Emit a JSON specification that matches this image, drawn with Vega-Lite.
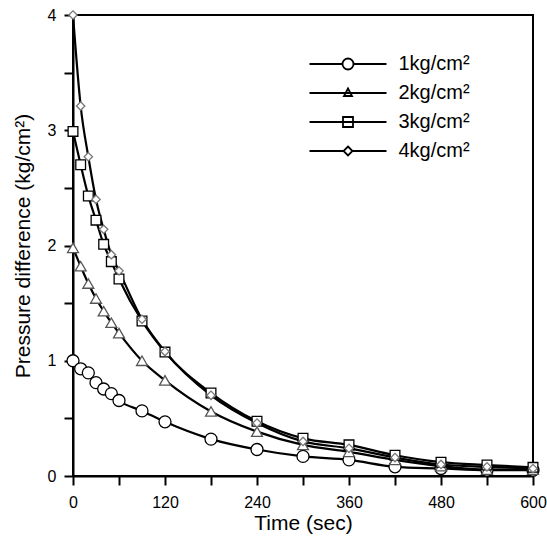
{
  "$schema": "https://vega.github.io/schema/vega-lite/v6.json",
  "width": 460,
  "height": 461,
  "autosize": "none",
  "padding": {"left": 73, "top": 15, "right": 14, "bottom": 62},
  "config": {
    "font": "Liberation Sans",
    "view": {"stroke": "black", "strokeWidth": 2},
    "axis": {
      "grid": false,
      "labelColor": "black",
      "labelFontSize": 16,
      "titleColor": "black",
      "titleFontSize": 21,
      "titleFontWeight": "normal"
    }
  },
  "data": {
    "values": [
      {"t": 0, "p": 1.0, "s": "1kg/cm²"},
      {"t": 10, "p": 0.93, "s": "1kg/cm²"},
      {"t": 20, "p": 0.895, "s": "1kg/cm²"},
      {"t": 30, "p": 0.81, "s": "1kg/cm²"},
      {"t": 40, "p": 0.755, "s": "1kg/cm²"},
      {"t": 50, "p": 0.715, "s": "1kg/cm²"},
      {"t": 60, "p": 0.655, "s": "1kg/cm²"},
      {"t": 90, "p": 0.565, "s": "1kg/cm²"},
      {"t": 120, "p": 0.47, "s": "1kg/cm²"},
      {"t": 180, "p": 0.32, "s": "1kg/cm²"},
      {"t": 240, "p": 0.23, "s": "1kg/cm²"},
      {"t": 300, "p": 0.17, "s": "1kg/cm²"},
      {"t": 360, "p": 0.14, "s": "1kg/cm²"},
      {"t": 420, "p": 0.08, "s": "1kg/cm²"},
      {"t": 480, "p": 0.065, "s": "1kg/cm²"},
      {"t": 540, "p": 0.05, "s": "1kg/cm²"},
      {"t": 600, "p": 0.05, "s": "1kg/cm²"},
      {"t": 0, "p": 1.98, "s": "2kg/cm²"},
      {"t": 10, "p": 1.82, "s": "2kg/cm²"},
      {"t": 20, "p": 1.67, "s": "2kg/cm²"},
      {"t": 30, "p": 1.54, "s": "2kg/cm²"},
      {"t": 40, "p": 1.43, "s": "2kg/cm²"},
      {"t": 50, "p": 1.33, "s": "2kg/cm²"},
      {"t": 60, "p": 1.24, "s": "2kg/cm²"},
      {"t": 90, "p": 1.0, "s": "2kg/cm²"},
      {"t": 120, "p": 0.83, "s": "2kg/cm²"},
      {"t": 180, "p": 0.56, "s": "2kg/cm²"},
      {"t": 240, "p": 0.385, "s": "2kg/cm²"},
      {"t": 300, "p": 0.27, "s": "2kg/cm²"},
      {"t": 360, "p": 0.21, "s": "2kg/cm²"},
      {"t": 420, "p": 0.14, "s": "2kg/cm²"},
      {"t": 480, "p": 0.085, "s": "2kg/cm²"},
      {"t": 540, "p": 0.055, "s": "2kg/cm²"},
      {"t": 600, "p": 0.055, "s": "2kg/cm²"},
      {"t": 0, "p": 2.99, "s": "3kg/cm²"},
      {"t": 10, "p": 2.7, "s": "3kg/cm²"},
      {"t": 20, "p": 2.43, "s": "3kg/cm²"},
      {"t": 30, "p": 2.22, "s": "3kg/cm²"},
      {"t": 40, "p": 2.01, "s": "3kg/cm²"},
      {"t": 50, "p": 1.86, "s": "3kg/cm²"},
      {"t": 60, "p": 1.71, "s": "3kg/cm²"},
      {"t": 90, "p": 1.345, "s": "3kg/cm²"},
      {"t": 120, "p": 1.075, "s": "3kg/cm²"},
      {"t": 180, "p": 0.72, "s": "3kg/cm²"},
      {"t": 240, "p": 0.475, "s": "3kg/cm²"},
      {"t": 300, "p": 0.327, "s": "3kg/cm²"},
      {"t": 360, "p": 0.27, "s": "3kg/cm²"},
      {"t": 420, "p": 0.18, "s": "3kg/cm²"},
      {"t": 480, "p": 0.12, "s": "3kg/cm²"},
      {"t": 540, "p": 0.095, "s": "3kg/cm²"},
      {"t": 600, "p": 0.075, "s": "3kg/cm²"},
      {"t": 0, "p": 4.0, "s": "4kg/cm²"},
      {"t": 10, "p": 3.21, "s": "4kg/cm²"},
      {"t": 20, "p": 2.77, "s": "4kg/cm²"},
      {"t": 30, "p": 2.4, "s": "4kg/cm²"},
      {"t": 40, "p": 2.14, "s": "4kg/cm²"},
      {"t": 50, "p": 1.92, "s": "4kg/cm²"},
      {"t": 60, "p": 1.78, "s": "4kg/cm²"},
      {"t": 90, "p": 1.36, "s": "4kg/cm²"},
      {"t": 120, "p": 1.08, "s": "4kg/cm²"},
      {"t": 180, "p": 0.7, "s": "4kg/cm²"},
      {"t": 240, "p": 0.46, "s": "4kg/cm²"},
      {"t": 300, "p": 0.3, "s": "4kg/cm²"},
      {"t": 360, "p": 0.24, "s": "4kg/cm²"},
      {"t": 420, "p": 0.16, "s": "4kg/cm²"},
      {"t": 480, "p": 0.1, "s": "4kg/cm²"},
      {"t": 540, "p": 0.08, "s": "4kg/cm²"},
      {"t": 600, "p": 0.065, "s": "4kg/cm²"}
    ]
  },
  "encoding": {
    "x": {
      "field": "t",
      "type": "quantitative",
      "scale": {"domain": [0, 600], "nice": false},
      "axis": {
        "title": "Time (sec)",
        "values": [0, 60, 120, 180, 240, 300, 360, 420, 480, 540, 600],
        "format": "d",
        "labelOpacity": {"condition": {"test": "datum.value % 120 != 0", "value": 0}, "value": 1},
        "ticks": true,
        "tickColor": "black",
        "tickOpacity": 1,
        "tickSize": 9,
        "tickWidth": 2,
        "domainColor": "black",
        "domainWidth": 2,
        "labelPadding": 9,
        "titlePadding": 2,
        "labelFlush": false,
        "labelOverlap": false
      }
    },
    "y": {
      "field": "p",
      "type": "quantitative",
      "scale": {"domain": [0, 4], "nice": false},
      "axis": {
        "title": "Pressure difference (kg/cm²)",
        "values": [0, 0.5, 1, 1.5, 2, 2.5, 3, 3.5, 4],
        "format": ".0f",
        "labelOpacity": {"condition": {"test": "datum.value % 1 != 0", "value": 0}, "value": 1},
        "ticks": true,
        "tickColor": "black",
        "tickOpacity": 1,
        "tickSize": 9,
        "tickWidth": 2,
        "domainColor": "black",
        "domainWidth": 2,
        "labelPadding": 8,
        "titlePadding": 14,
        "labelFlush": false,
        "labelOverlap": false
      }
    }
  },
  "layer": [
    {
      "mark": {"type": "line", "color": "black", "strokeWidth": 2.2, "interpolate": "monotone"},
      "encoding": {"detail": {"field": "s"}}
    },
    {
      "mark": {"type": "point", "filled": false, "fill": "white", "fillOpacity": 1, "strokeWidth": 1.3},
      "encoding": {
        "shape": {
          "field": "s",
          "scale": {"domain": ["1kg/cm²", "2kg/cm²", "3kg/cm²", "4kg/cm²"], "range": ["circle", "triangle-up", "square", "diamond"]},
          "legend": null
        },
        "stroke": {
          "field": "s",
          "scale": {"domain": ["1kg/cm²", "2kg/cm²", "3kg/cm²", "4kg/cm²"], "range": ["#000000", "#555555", "#000000", "#777777"]},
          "legend": null
        },
        "size": {
          "field": "s",
          "type": "nominal",
          "scale": {"domain": ["1kg/cm²", "2kg/cm²", "3kg/cm²", "4kg/cm²"], "range": [144, 70, 121, 90]},
          "legend": null
        }
      }
    },
    {
      "mark": {"type": "point", "filled": false, "stroke": "black", "strokeOpacity": 0, "fillOpacity": 0},
      "encoding": {
        "shape": {
          "field": "s",
          "scale": {
            "domain": ["1kg/cm²", "2kg/cm²", "3kg/cm²", "4kg/cm²"],
            "range": [
              "M-3.85,0H-0.55M0.55,0H3.85M0.55,0A0.55,0.55 0 1,0 -0.55,0A0.55,0.55 0 1,0 0.55,0Z",
              "M-3.85,0H3.85M0,-0.45L0.4,0.3L-0.4,0.3Z",
              "M-3.85,0H3.85M-0.5,-0.5H0.5V0.5H-0.5Z",
              "M-3.85,0H-0.45M0.45,0H3.85M0,-0.45L0.45,0L0,0.45L-0.45,0Z"
            ]
          },
          "legend": {
            "title": null,
            "orient": "none",
            "legendX": 264,
            "legendY": 38,
            "padding": 0,
            "symbolSize": 400,
            "symbolOpacity": 1,
            "symbolStrokeColor": "black",
            "symbolFillColor": "transparent",
            "symbolStrokeWidth": 1.8,
            "labelOffset": 39.5,
            "labelFontSize": 20,
            "labelColor": "black",
            "rowPadding": 8
          }
        }
      }
    }
  ],
  "resolve": {"scale": {"shape": "independent"}}
}
